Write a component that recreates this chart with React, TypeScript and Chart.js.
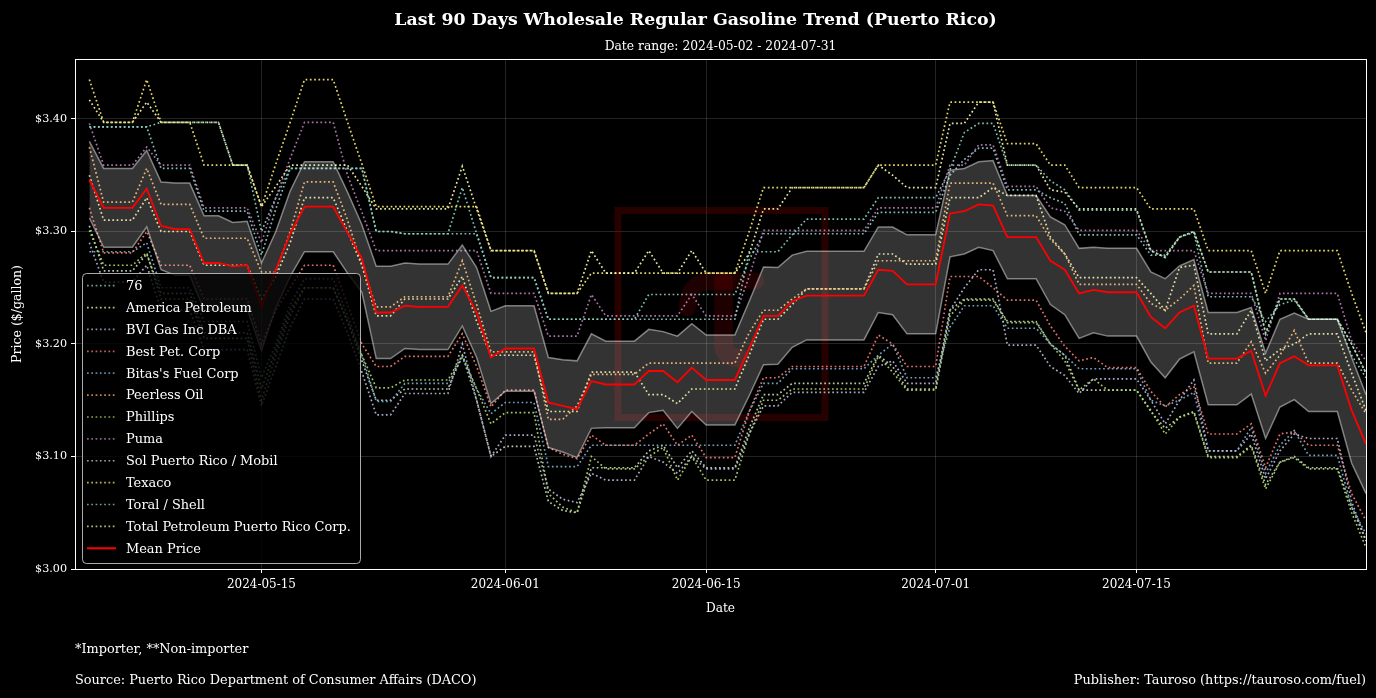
import React, { useEffect, useRef } from 'react';
import { Chart, registerables } from 'chart.js';

Chart.register(...registerables);

const FONT = '"DejaVu Serif", "Liberation Serif", serif';

const TITLE = 'Last 90 Days Wholesale Regular Gasoline Trend (Puerto Rico)';
const SUBTITLE = 'Date range: 2024-05-02 - 2024-07-31';
const FOOT_NOTE = '*Importer, **Non-importer';
const SOURCE = 'Source: Puerto Rico Department of Consumer Affairs (DACO)';
const PUBLISHER = 'Publisher: Tauroso (https://tauroso.com/fuel)';
const X_TITLE = 'Date';
const Y_TITLE = 'Price ($/gallon)';

const RANGE_START = '2024-05-02';
const RANGE_END = '2024-07-31';
const FIRST_DATA_DATE = '2024-05-03';
const X_TICK_LABELS = ['2024-05-15', '2024-06-01', '2024-06-15', '2024-07-01', '2024-07-15'];
const Y_TICKS = [3.0, 3.1, 3.2, 3.3, 3.4];
const Y_MIN = 3.0;
const Y_MAX = 3.4533;

const COMPANIES = [
  '76',
  'America Petroleum',
  'BVI Gas Inc DBA',
  'Best Pet. Corp',
  "Bitas's Fuel Corp",
  'Peerless Oil',
  'Phillips',
  'Puma',
  'Sol Puerto Rico / Mobil',
  'Texaco',
  'Toral / Shell',
  'Total Petroleum Puerto Rico Corp.',
];

const COLORS = [
  '#8dd3c7', '#ffffb3', '#bebada', '#fb8072', '#80b1d3', '#fdb462',
  '#b3de69', '#bc80bd', '#c9dcc0', '#ffed6f', '#8dd3c7', '#f3f0a0',
];

const P_76 = [
  3.393, 3.393, 3.393, 3.393, 3.393, 3.356, 3.356, 3.356, 3.318, 3.318,
  3.318, 3.318, 3.279, 3.32, 3.356, 3.356, 3.356, 3.356, 3.356, 3.356,
  3.30, 3.30, 3.298, 3.298, 3.298, 3.298, 3.298, 3.298, 3.259, 3.259,
  3.259, 3.259, 3.222, 3.222, 3.222, 3.222, 3.222, 3.222, 3.222, 3.222,
  3.222, 3.222, 3.222, 3.222, 3.222, 3.222, 3.282, 3.282, 3.282, 3.297,
  3.311, 3.311, 3.311, 3.311, 3.311, 3.33, 3.33, 3.33, 3.33, 3.33,
  3.355, 3.388, 3.396, 3.396, 3.359, 3.359, 3.359, 3.345, 3.337, 3.319,
  3.319, 3.319, 3.319, 3.319, 3.283, 3.277, 3.295, 3.30, 3.264, 3.264,
  3.264, 3.264, 3.209, 3.24, 3.24, 3.222, 3.222, 3.222, 3.20, 3.174,
];

const P_AMERICA = [
  3.417, 3.397, 3.397, 3.397, 3.415, 3.397, 3.397, 3.397, 3.397, 3.397,
  3.359, 3.359, 3.322, 3.34, 3.359, 3.359, 3.359, 3.359, 3.359, 3.34,
  3.32, 3.32, 3.32, 3.32, 3.32, 3.32, 3.358, 3.32, 3.283, 3.283,
  3.283, 3.283, 3.245, 3.245, 3.245, 3.283, 3.263, 3.263, 3.263, 3.283,
  3.263, 3.263, 3.283, 3.263, 3.263, 3.263, 3.28, 3.32, 3.32, 3.339,
  3.339, 3.339, 3.339, 3.339, 3.339, 3.359, 3.35, 3.339, 3.339, 3.339,
  3.396, 3.396, 3.415, 3.415, 3.359, 3.359, 3.359, 3.337, 3.335, 3.32,
  3.32, 3.32, 3.32, 3.32, 3.283, 3.277, 3.295, 3.30, 3.264, 3.264,
  3.264, 3.264, 3.21, 3.24, 3.24, 3.222, 3.222, 3.222, 3.20, 3.174,
];

const P_BVI = [
  3.29, 3.255, 3.255, 3.255, 3.27, 3.23, 3.23, 3.23, 3.195, 3.195,
  3.195, 3.195, 3.145, 3.18, 3.215, 3.24, 3.24, 3.24, 3.21, 3.175,
  3.137, 3.137, 3.156, 3.156, 3.156, 3.156, 3.20, 3.15, 3.10, 3.119,
  3.119, 3.119, 3.071, 3.062, 3.059, 3.085, 3.079, 3.079, 3.079, 3.10,
  3.095, 3.085, 3.10, 3.089, 3.089, 3.089, 3.12, 3.145, 3.145, 3.157,
  3.157, 3.157, 3.157, 3.157, 3.157, 3.18, 3.185, 3.165, 3.165, 3.165,
  3.23, 3.25, 3.266, 3.266, 3.199, 3.199, 3.199, 3.18, 3.172, 3.156,
  3.169, 3.169, 3.169, 3.169, 3.15, 3.129, 3.15, 3.168, 3.105, 3.105,
  3.105, 3.12, 3.08, 3.105, 3.12, 3.116, 3.116, 3.116, 3.06, 3.025,
];

const P_BEST = [
  3.321, 3.281, 3.281, 3.281, 3.30, 3.27, 3.27, 3.27, 3.24, 3.24,
  3.24, 3.24, 3.20, 3.23, 3.25, 3.27, 3.27, 3.27, 3.235, 3.20,
  3.18, 3.18, 3.189, 3.189, 3.189, 3.189, 3.209, 3.18, 3.144, 3.159,
  3.159, 3.159, 3.108, 3.102, 3.098, 3.119, 3.11, 3.11, 3.11, 3.12,
  3.129, 3.11, 3.119, 3.099, 3.099, 3.099, 3.14, 3.17, 3.17, 3.18,
  3.18, 3.18, 3.18, 3.18, 3.18, 3.208, 3.20, 3.18, 3.18, 3.18,
  3.26, 3.26, 3.26, 3.25, 3.239, 3.239, 3.239, 3.216, 3.198, 3.185,
  3.188, 3.179, 3.179, 3.179, 3.158, 3.144, 3.155, 3.162, 3.12, 3.12,
  3.12, 3.129, 3.09, 3.12, 3.122, 3.11, 3.11, 3.11, 3.067, 3.043,
];

const P_BITAS = [
  3.282, 3.282, 3.282, 3.282, 3.29, 3.25, 3.25, 3.25, 3.22, 3.22,
  3.22, 3.22, 3.17, 3.20, 3.235, 3.258, 3.258, 3.258, 3.225, 3.19,
  3.149, 3.149, 3.165, 3.165, 3.165, 3.165, 3.188, 3.16, 3.138, 3.148,
  3.148, 3.148, 3.091, 3.091, 3.091, 3.11, 3.11, 3.11, 3.11, 3.11,
  3.11, 3.11, 3.11, 3.11, 3.11, 3.11, 3.14, 3.165, 3.165, 3.178,
  3.178, 3.178, 3.178, 3.178, 3.178, 3.19, 3.20, 3.17, 3.17, 3.17,
  3.215, 3.234, 3.234, 3.234, 3.214, 3.214, 3.214, 3.20, 3.19, 3.178,
  3.178, 3.178, 3.178, 3.178, 3.15, 3.145, 3.15, 3.157, 3.105, 3.105,
  3.105, 3.126, 3.085, 3.11, 3.123, 3.101, 3.101, 3.101, 3.055, 3.031,
];

const P_PEERLESS = [
  3.375, 3.326, 3.326, 3.326, 3.356, 3.324, 3.324, 3.324, 3.294, 3.294,
  3.294, 3.294, 3.264, 3.264, 3.30, 3.344, 3.344, 3.344, 3.31, 3.27,
  3.233, 3.233, 3.242, 3.242, 3.242, 3.242, 3.274, 3.235, 3.193, 3.193,
  3.193, 3.193, 3.133, 3.133, 3.145, 3.173, 3.173, 3.173, 3.173, 3.183,
  3.183, 3.183, 3.183, 3.183, 3.183, 3.183, 3.21, 3.23, 3.23, 3.24,
  3.249, 3.249, 3.249, 3.249, 3.249, 3.274, 3.274, 3.274, 3.274, 3.274,
  3.343, 3.343, 3.343, 3.343, 3.314, 3.314, 3.314, 3.293, 3.28, 3.253,
  3.253, 3.253, 3.253, 3.253, 3.236, 3.23, 3.24, 3.252, 3.183, 3.183,
  3.183, 3.202, 3.174, 3.19, 3.212, 3.183, 3.183, 3.183, 3.159, 3.138,
];

const P_PHILLIPS = [
  3.301, 3.27, 3.27, 3.27, 3.281, 3.24, 3.24, 3.24, 3.205, 3.205,
  3.205, 3.205, 3.15, 3.19, 3.225, 3.25, 3.25, 3.25, 3.22, 3.19,
  3.161, 3.161, 3.168, 3.168, 3.168, 3.168, 3.19, 3.16, 3.129, 3.139,
  3.139, 3.139, 3.067, 3.055, 3.05, 3.10, 3.089, 3.089, 3.089, 3.10,
  3.108, 3.079, 3.10, 3.079, 3.079, 3.079, 3.12, 3.15, 3.15, 3.16,
  3.16, 3.16, 3.16, 3.16, 3.16, 3.189, 3.175, 3.159, 3.159, 3.159,
  3.225, 3.239, 3.239, 3.239, 3.219, 3.219, 3.219, 3.20, 3.185, 3.159,
  3.169, 3.159, 3.159, 3.159, 3.141, 3.12, 3.135, 3.139, 3.099, 3.099,
  3.099, 3.109, 3.071, 3.095, 3.099, 3.089, 3.089, 3.089, 3.05, 3.019,
];

const P_PUMA = [
  3.396, 3.359, 3.359, 3.359, 3.375, 3.359, 3.359, 3.359, 3.321, 3.321,
  3.321, 3.321, 3.29, 3.33, 3.365, 3.397, 3.397, 3.397, 3.35, 3.317,
  3.283, 3.283, 3.283, 3.283, 3.283, 3.283, 3.283, 3.283, 3.245, 3.245,
  3.245, 3.245, 3.207, 3.207, 3.207, 3.244, 3.225, 3.225, 3.225, 3.225,
  3.225, 3.225, 3.244, 3.225, 3.225, 3.225, 3.26, 3.301, 3.301, 3.301,
  3.301, 3.301, 3.301, 3.301, 3.301, 3.321, 3.321, 3.321, 3.321, 3.321,
  3.359, 3.359, 3.377, 3.377, 3.34, 3.34, 3.34, 3.321, 3.318, 3.301,
  3.301, 3.301, 3.301, 3.301, 3.283, 3.283, 3.283, 3.283, 3.245, 3.245,
  3.245, 3.245, 3.203, 3.245, 3.245, 3.245, 3.245, 3.245, 3.203, 3.185,
];

const P_SOL = [
  3.305, 3.265, 3.265, 3.265, 3.28, 3.245, 3.245, 3.245, 3.21, 3.21,
  3.21, 3.21, 3.16, 3.195, 3.23, 3.25, 3.25, 3.25, 3.22, 3.185,
  3.15, 3.15, 3.16, 3.16, 3.16, 3.16, 3.19, 3.15, 3.10, 3.109,
  3.109, 3.109, 3.06, 3.052, 3.05, 3.09, 3.09, 3.09, 3.09, 3.105,
  3.11, 3.09, 3.105, 3.09, 3.09, 3.09, 3.125, 3.155, 3.155, 3.165,
  3.165, 3.165, 3.165, 3.165, 3.165, 3.19, 3.18, 3.16, 3.16, 3.16,
  3.23, 3.24, 3.24, 3.24, 3.22, 3.22, 3.22, 3.20, 3.19, 3.159,
  3.159, 3.159, 3.159, 3.159, 3.14, 3.125, 3.135, 3.14, 3.10, 3.10,
  3.10, 3.11, 3.075, 3.095, 3.10, 3.09, 3.09, 3.09, 3.055, 3.025,
];

const P_TEXACO = [
  3.435, 3.397, 3.397, 3.397, 3.435, 3.397, 3.397, 3.397, 3.359, 3.359,
  3.359, 3.359, 3.322, 3.36, 3.397, 3.435, 3.435, 3.435, 3.397, 3.36,
  3.322, 3.322, 3.322, 3.322, 3.322, 3.322, 3.322, 3.322, 3.283, 3.283,
  3.283, 3.283, 3.245, 3.245, 3.245, 3.263, 3.263, 3.263, 3.263, 3.263,
  3.263, 3.263, 3.263, 3.263, 3.263, 3.263, 3.30, 3.339, 3.339, 3.339,
  3.339, 3.339, 3.339, 3.339, 3.339, 3.359, 3.359, 3.359, 3.359, 3.359,
  3.415, 3.415, 3.415, 3.415, 3.378, 3.378, 3.378, 3.359, 3.359, 3.339,
  3.339, 3.339, 3.339, 3.339, 3.32, 3.32, 3.32, 3.32, 3.283, 3.283,
  3.283, 3.283, 3.245, 3.283, 3.283, 3.283, 3.283, 3.283, 3.245, 3.21,
];

const P_TORAL = [
  3.393, 3.393, 3.393, 3.393, 3.393, 3.397, 3.397, 3.397, 3.397, 3.397,
  3.359, 3.359, 3.30, 3.33, 3.356, 3.356, 3.356, 3.356, 3.356, 3.356,
  3.30, 3.30, 3.298, 3.298, 3.298, 3.298, 3.339, 3.298, 3.259, 3.259,
  3.259, 3.259, 3.222, 3.222, 3.222, 3.222, 3.222, 3.222, 3.222, 3.244,
  3.244, 3.244, 3.244, 3.244, 3.244, 3.244, 3.275, 3.298, 3.298, 3.298,
  3.298, 3.298, 3.298, 3.298, 3.298, 3.317, 3.317, 3.317, 3.317, 3.317,
  3.35, 3.364, 3.374, 3.374, 3.337, 3.337, 3.337, 3.33, 3.325, 3.297,
  3.297, 3.297, 3.297, 3.297, 3.279, 3.279, 3.295, 3.299, 3.242, 3.242,
  3.242, 3.242, 3.22, 3.235, 3.239, 3.222, 3.222, 3.222, 3.19, 3.17,
];

const P_TOTAL = [
  3.35, 3.31, 3.31, 3.31, 3.33, 3.30, 3.30, 3.30, 3.27, 3.27,
  3.27, 3.27, 3.24, 3.26, 3.29, 3.33, 3.33, 3.33, 3.30, 3.27,
  3.225, 3.225, 3.24, 3.24, 3.24, 3.24, 3.26, 3.22, 3.19, 3.19,
  3.19, 3.19, 3.14, 3.14, 3.14, 3.175, 3.175, 3.175, 3.175, 3.155,
  3.155, 3.147, 3.16, 3.16, 3.16, 3.16, 3.19, 3.222, 3.222, 3.235,
  3.249, 3.249, 3.249, 3.249, 3.249, 3.28, 3.28, 3.271, 3.271, 3.271,
  3.33, 3.33, 3.33, 3.339, 3.332, 3.332, 3.332, 3.295, 3.28, 3.259,
  3.259, 3.259, 3.259, 3.259, 3.245, 3.23, 3.268, 3.27, 3.209, 3.209,
  3.209, 3.23, 3.185, 3.195, 3.20, 3.209, 3.209, 3.209, 3.174, 3.141,
];

const MEAN_PRICE = [
  3.346, 3.321, 3.321, 3.321, 3.338, 3.305, 3.302, 3.302, 3.272, 3.272,
  3.269, 3.270, 3.233, 3.266, 3.298, 3.322, 3.322, 3.322, 3.299, 3.276,
  3.228, 3.228, 3.234, 3.233, 3.233, 3.233, 3.252, 3.228, 3.188, 3.196,
  3.196, 3.196, 3.148, 3.145, 3.142, 3.167, 3.164, 3.164, 3.164, 3.176,
  3.176, 3.166, 3.179, 3.168, 3.168, 3.168, 3.196, 3.225, 3.225, 3.238,
  3.243, 3.243, 3.243, 3.243, 3.243, 3.266, 3.265, 3.253, 3.253, 3.253,
  3.316, 3.318, 3.324, 3.323, 3.295, 3.295, 3.295, 3.274, 3.266, 3.245,
  3.248, 3.246, 3.246, 3.246, 3.224, 3.214, 3.228, 3.234, 3.187, 3.187,
  3.187, 3.194, 3.154, 3.183, 3.189, 3.181, 3.181, 3.181, 3.141, 3.111,
];

const STD_PRICE = [
  0.034, 0.035, 0.035, 0.035, 0.034, 0.039, 0.041, 0.041, 0.042, 0.042,
  0.039, 0.039, 0.039, 0.034, 0.038, 0.040, 0.040, 0.040, 0.036, 0.030,
  0.041, 0.041, 0.038, 0.038, 0.038, 0.038, 0.036, 0.040, 0.041, 0.038,
  0.038, 0.038, 0.040, 0.041, 0.043, 0.042, 0.0385, 0.0385, 0.0385, 0.037,
  0.035, 0.041, 0.039, 0.040, 0.040, 0.040, 0.042, 0.0435, 0.043, 0.041,
  0.0394, 0.0394, 0.0394, 0.0394, 0.0394, 0.038, 0.039, 0.044, 0.044, 0.044,
  0.0385, 0.038, 0.038, 0.040, 0.037, 0.037, 0.037, 0.039, 0.040, 0.040,
  0.038, 0.039, 0.039, 0.039, 0.040, 0.044, 0.0415, 0.041, 0.041, 0.041,
  0.041, 0.0385, 0.038, 0.039, 0.0385, 0.041, 0.041, 0.041, 0.047, 0.044,
];

const SERIES = [
  P_76, P_AMERICA, P_BVI, P_BEST, P_BITAS, P_PEERLESS,
  P_PHILLIPS, P_PUMA, P_SOL, P_TEXACO, P_TORAL, P_TOTAL,
];

const DAY_MS = 86400000;
const dayOf = (d: string) => Math.round((Date.parse(d) - Date.parse(RANGE_START)) / DAY_MS);
const FIRST_DAY = dayOf(FIRST_DATA_DATE);
const X_TICK_DAYS = X_TICK_LABELS.map(dayOf);

function rgba(hex: string, a: number) {
  const n = parseInt(hex.slice(1), 16);
  return `rgba(${(n >> 16) & 255},${(n >> 8) & 255},${n & 255},${a})`;
}

const LINE_ALPHA = 0.9;
const LINE_W = 1.7;
const DOT = [1.7, 2.6];

export default function App() {
  const ref = useRef<HTMLCanvasElement | null>(null);

  useEffect(() => {
    const canvas = ref.current;
    if (!canvas) return;
    const mctx = document.createElement('canvas').getContext('2d')!;
    const fit = (text: string, target: number, weight = 'normal') => {
      mctx.font = `${weight} 100px ${FONT}`;
      return (100 * target) / mctx.measureText(text).width;
    };
    const xTickSize = fit('2024-05-15', 69);
    const yTickSize = fit('$3.00', 32);

    const pts = (arr: number[]) => arr.map((v, i) => ({ x: FIRST_DAY + i, y: v }));

    const seriesSets = COMPANIES.map((name, k) => ({
      label: name,
      data: pts(SERIES[k]),
      borderColor: rgba(COLORS[k], LINE_ALPHA),
      borderWidth: LINE_W,
      borderDash: DOT,
      pointRadius: 0,
      fill: false,
      tension: 0,
      order: 3,
    }));

    const upper = MEAN_PRICE.map((m, i) => m + STD_PRICE[i]);
    const lower = MEAN_PRICE.map((m, i) => m - STD_PRICE[i]);

    const decor = {
      id: 'decor',
      beforeDraw(chart: any) {
        const c = chart.ctx;
        c.save();
        c.fillStyle = '#000';
        c.fillRect(0, 0, chart.width, chart.height);
        c.restore();
      },
      beforeDatasetsDraw(chart: any) {
        const c = chart.ctx;
        const a = chart.chartArea;
        const cx = (a.left + a.right) / 2 + 1;
        const cy = (a.top + a.bottom) / 2;
        const s = 207;
        c.save();
        c.strokeStyle = 'rgba(120,0,0,0.32)';
        c.lineWidth = 7;
        c.strokeRect(cx - s / 2, cy - s / 2, s, s);
        // faint tau-like mark
        c.strokeStyle = 'rgba(120,0,0,0.26)';
        c.lineCap = 'round';
        c.lineWidth = 17;
        c.beginPath();
        c.moveTo(cx - 34, cy - 6);
        c.quadraticCurveTo(cx - 34, cy - 33, cx - 8, cy - 33);
        c.lineTo(cx + 34, cy - 33);
        c.stroke();
        c.lineWidth = 19;
        c.beginPath();
        c.moveTo(cx + 2, cy - 33);
        c.lineTo(cx + 2, cy + 28);
        c.quadraticCurveTo(cx + 2, cy + 44, cx + 18, cy + 44);
        c.stroke();
        c.restore();
      },
      afterDatasetsDraw(chart: any) {
        const c = chart.ctx;
        const a = chart.chartArea;
        c.save();
        c.strokeStyle = '#ffffff';
        c.lineWidth = 1;
        c.strokeRect(Math.round(a.left) + 0.5, Math.round(a.top) + 0.5, Math.round(a.right - a.left), Math.round(a.bottom - a.top));
        c.restore();
      },
      afterDraw(chart: any) {
        const c = chart.ctx;
        const a = chart.chartArea;
        c.save();
        c.fillStyle = '#ffffff';
        const tSize = fit(TITLE, 603, 'bold');
        c.font = `bold ${tSize}px ${FONT}`;
        c.textAlign = 'center';
        c.textBaseline = 'alphabetic';
        c.fillText(TITLE, 695.5, 25);
        const sSize = fit(SUBTITLE, 232);
        c.font = `${sSize}px ${FONT}`;
        c.fillText(SUBTITLE, (a.left + a.right) / 2, 50);
        const xtSize = fit(X_TITLE, 29);
        c.font = `${xtSize}px ${FONT}`;
        c.fillText(X_TITLE, (a.left + a.right) / 2, 612);
        const ytSize = fit(Y_TITLE, 98);
        c.save();
        c.translate(21, (a.top + a.bottom) / 2);
        c.rotate(-Math.PI / 2);
        c.font = `${ytSize}px ${FONT}`;
        c.fillText(Y_TITLE, 0, 0);
        c.restore();
        const fSize = fit(SOURCE, 402);
        c.font = `${fSize}px ${FONT}`;
        c.textAlign = 'left';
        c.fillText(FOOT_NOTE, 75, 653);
        c.fillText(SOURCE, 75, 684);
        c.textAlign = 'right';
        c.fillText(PUBLISHER, 1366, 684);

        const lx = 82.5, ly = 273.5, lw = 278, lh = 290, r = 4;
        c.beginPath();
        c.moveTo(lx + r, ly);
        c.lineTo(lx + lw - r, ly);
        c.quadraticCurveTo(lx + lw, ly, lx + lw, ly + r);
        c.lineTo(lx + lw, ly + lh - r);
        c.quadraticCurveTo(lx + lw, ly + lh, lx + lw - r, ly + lh);
        c.lineTo(lx + r, ly + lh);
        c.quadraticCurveTo(lx, ly + lh, lx, ly + lh - r);
        c.lineTo(lx, ly + r);
        c.quadraticCurveTo(lx, ly, lx + r, ly);
        c.closePath();
        c.fillStyle = 'rgba(0,0,0,0.8)';
        c.fill();
        c.strokeStyle = 'rgba(200,200,200,0.85)';
        c.lineWidth = 1;
        c.stroke();

        const lSize = fit('Total Petroleum Puerto Rico Corp.', 225);
        c.font = `${lSize}px ${FONT}`;
        c.textAlign = 'left';
        c.textBaseline = 'middle';
        const names = [...COMPANIES, 'Mean Price'];
        names.forEach((nm, i) => {
          const y = 285.7 + i * 21.88;
          c.save();
          c.beginPath();
          c.moveTo(87, y);
          c.lineTo(116, y);
          if (i < COMPANIES.length) {
            c.strokeStyle = rgba(COLORS[i], 0.75);
            c.lineWidth = LINE_W;
            c.setLineDash(DOT);
          } else {
            c.strokeStyle = '#ff0000';
            c.lineWidth = 2;
            c.setLineDash([]);
          }
          c.stroke();
          c.restore();
          c.fillStyle = '#ffffff';
          c.fillText(nm, 126, y + 1);
        });
        c.restore();
      },
    };

    const chart = new Chart(canvas, {
      type: 'line',
      data: {
        datasets: [
          ...seriesSets,
          {
            label: 'upper',
            data: pts(upper),
            borderColor: 'rgba(255,255,255,0.45)',
            borderWidth: 1.5,
            pointRadius: 0,
            fill: '+1',
            backgroundColor: 'rgba(255,255,255,0.2)',
            tension: 0,
            order: 2,
          },
          {
            label: 'lower',
            data: pts(lower),
            borderColor: 'rgba(255,255,255,0.45)',
            borderWidth: 1.5,
            pointRadius: 0,
            fill: false,
            tension: 0,
            order: 2,
          },
          {
            label: 'Mean Price',
            data: pts(MEAN_PRICE),
            borderColor: '#ff0000',
            borderWidth: 1.8,
            pointRadius: 0,
            fill: false,
            tension: 0,
            order: 1,
          },
        ] as any,
      },
      options: {
        responsive: false,
        animation: false,
        devicePixelRatio: 1,
        layout: { padding: { left: 0, right: 10, top: 59, bottom: 89 } },
        plugins: {
          legend: { display: false },
          tooltip: { enabled: false },
          title: { display: false },
        },
        scales: {
          x: {
            type: 'linear',
            min: dayOf(RANGE_START),
            max: dayOf(RANGE_END),
            afterBuildTicks: (s: any) => {
              s.ticks = X_TICK_DAYS.map((v) => ({ value: v }));
            },
            afterFit: (s: any) => {
              s.height = 40;
            },
            ticks: {
              color: '#ffffff',
              font: { family: FONT, size: xTickSize },
              maxRotation: 0,
              autoSkip: false,
              padding: 5,
              callback: (v: any) => {
                const i = X_TICK_DAYS.indexOf(Number(v));
                return i >= 0 ? X_TICK_LABELS[i] : '';
              },
            },
            grid: { color: 'rgba(255,255,255,0.14)', tickColor: '#ffffff', tickLength: 4, lineWidth: 1 },
            border: { display: false },
          },
          y: {
            type: 'linear',
            min: Y_MIN,
            max: Y_MAX,
            afterBuildTicks: (s: any) => {
              s.ticks = Y_TICKS.map((v) => ({ value: v }));
            },
            afterFit: (s: any) => {
              s.width = 75;
            },
            ticks: {
              color: '#ffffff',
              font: { family: FONT, size: yTickSize },
              padding: 4,
              callback: (v: any) => '$' + Number(v).toFixed(2),
            },
            grid: { color: 'rgba(255,255,255,0.14)', tickColor: '#ffffff', tickLength: 4, lineWidth: 1 },
            border: { display: false },
          },
        },
      } as any,
      plugins: [decor],
    });

    return () => chart.destroy();
  }, []);

  return (
    <div style={{ position: 'fixed', left: 0, top: 0, width: 1376, height: 698, background: '#000' }}>
      <canvas ref={ref} width={1376} height={698} style={{ display: 'block', width: 1376, height: 698 }} />
    </div>
  );
}
